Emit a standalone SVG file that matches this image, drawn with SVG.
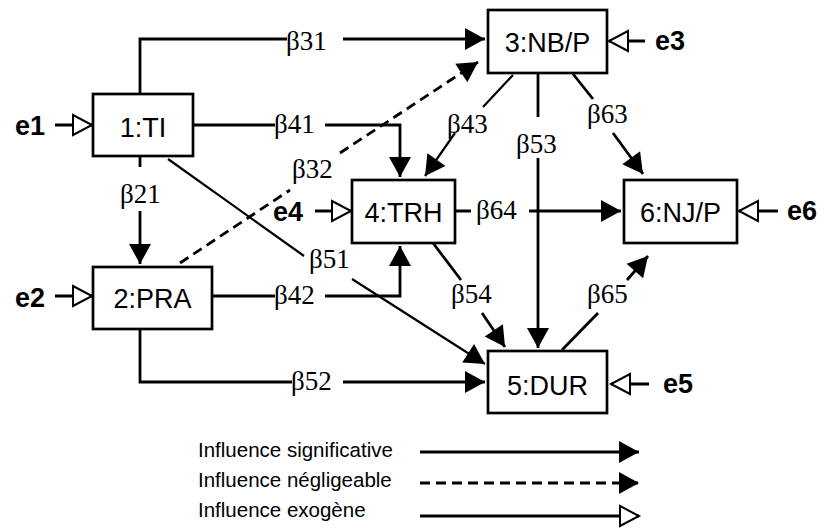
<svg xmlns="http://www.w3.org/2000/svg" width="824" height="529" viewBox="0 0 824 529">
<style>
.box{fill:#fff;stroke:#000;stroke-width:2.7}
.bt{font-family:"Liberation Sans",Arial,sans-serif;font-size:27px;text-anchor:middle;fill:#000}
.et{font-family:"Liberation Sans",Arial,sans-serif;font-size:27px;font-weight:bold;fill:#000}
.b{font-family:"Liberation Serif","Times New Roman",serif;font-size:27px;fill:#000}
.lt{font-family:"Liberation Sans",Arial,sans-serif;font-size:20.5px;fill:#000}
.c{fill:none;stroke:#000;stroke-width:2.8;marker-end:url(#ah)}
.thin{stroke-width:2.2}
.d{stroke-dasharray:10 6}
.x{fill:none;stroke:#000;stroke-width:2.8;marker-end:url(#oh)}
</style>
<defs>
<marker id="ah" markerUnits="userSpaceOnUse" markerWidth="22" markerHeight="24" refX="20" refY="11" orient="auto" overflow="visible">
<path d="M0,0 L20,11 L0,22 Z" fill="#000"/>
</marker>
<marker id="oh" markerUnits="userSpaceOnUse" markerWidth="24" markerHeight="24" refX="20" refY="11" orient="auto" overflow="visible">
<path d="M1,1 L20,11 L1,21 Z" fill="#fff" stroke="#000" stroke-width="2"/>
</marker>
</defs>
<rect width="824" height="529" fill="#fff"/>
<g id="connectors">
<path class="c" d="M140,94 V39 H287 M343,39 H485"/>
<path class="c" d="M193,125 H275 M325,125 H400 V177"/>
<path class="c" d="M140,156 V167 M140,211 V264"/>
<path class="c d" d="M180,263 L290,190 M340,153 L478,62"/>
<path class="c thin" d="M168,159 L304,256 M352,279 L485,364"/>
<path class="c" d="M212,296 H275 M325,296 H400 V246"/>
<path class="c" d="M140,329 V382 H292 M343,382 H485"/>
<path class="c thin" d="M513,75 L483,107 M455,133 L425,176"/>
<path class="c" d="M538,73 V117 M538,158 V348"/>
<path class="c" d="M573,74 L593,99 M613,133 L643,174"/>
<path class="c" d="M455,211 H471 M529,211 H621"/>
<path class="c" d="M433,243 L461,280 M482,313 L505,347"/>
<path class="c" d="M562,350 L598,313 M627,280 L648,256"/>
<path class="x" d="M55,125 H92"/>
<path class="x" d="M55,296 H92"/>
<path class="x" d="M315,211 H351"/>
<path class="x" d="M645,41 H609"/>
<path class="x" d="M778,211 H739"/>
<path class="x" d="M649,384 H611"/>
<text class="b" x="286" y="50">β31</text>
<text class="b" x="274" y="133">β41</text>
<text class="b" x="120" y="203">β21</text>
<text class="b" x="292" y="178">β32</text>
<text class="b" x="309" y="268">β51</text>
<text class="b" x="274" y="304">β42</text>
<text class="b" x="291" y="390">β52</text>
<text class="b" x="447" y="133">β43</text>
<text class="b" x="516" y="153">β53</text>
<text class="b" x="587" y="123">β63</text>
<text class="b" x="476" y="219">β64</text>
<text class="b" x="451" y="303">β54</text>
<text class="b" x="587" y="303">β65</text>
</g>
<g id="n1"><rect class="box" x="93" y="94" width="100" height="62"/><text class="bt" x="143" y="137">1:TI</text></g>
<g id="n2"><rect class="box" x="93" y="267" width="119" height="62"/><text class="bt" x="152.5" y="308">2:PRA</text></g>
<g id="n3"><rect class="box" x="488" y="10" width="119" height="63"/><text class="bt" x="547.5" y="52">3:NB/P</text></g>
<g id="n4"><rect class="box" x="352" y="180" width="103" height="63"/><text class="bt" x="403.5" y="222">4:TRH</text></g>
<g id="n5"><rect class="box" x="488" y="351" width="119" height="62"/><text class="bt" x="547.5" y="395">5:DUR</text></g>
<g id="n6"><rect class="box" x="624" y="180" width="113" height="63"/><text class="bt" x="680.5" y="222">6:NJ/P</text></g>
<g id="e1"><text class="et" x="15" y="135">e1</text></g>
<g id="e2"><text class="et" x="15" y="307">e2</text></g>
<g id="e3"><text class="et" x="655" y="50">e3</text></g>
<g id="e4"><text class="et" x="273" y="221">e4</text></g>
<g id="e5"><text class="et" x="663" y="393">e5</text></g>
<g id="e6"><text class="et" x="787" y="220">e6</text></g>
<g id="legend">
<text class="lt" x="198" y="457">Influence significative</text>
<text class="lt" x="198" y="487">Influence négligeable</text>
<text class="lt" x="198" y="517">Influence exogène</text>
<path class="c" d="M420,452 H639"/>
<path class="c d" d="M420,483 H639"/>
<path class="x" d="M420,516 H639"/>
</g>
</svg>
